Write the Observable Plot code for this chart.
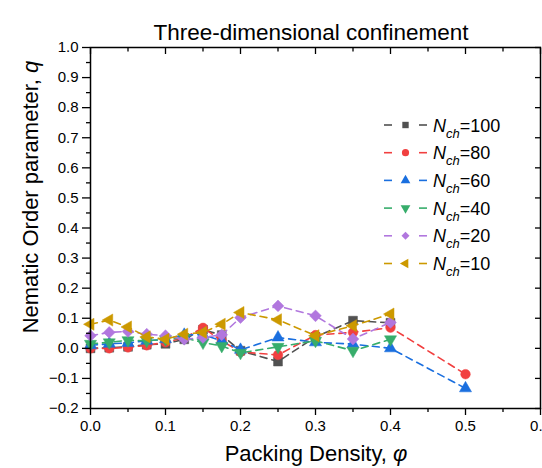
<!DOCTYPE html>
<html><head><meta charset="utf-8">
<script src="https://cdn.jsdelivr.net/npm/d3@7"></script>
<script src="https://cdn.jsdelivr.net/npm/@observablehq/plot@0.6"></script>
<style>
html,body{margin:0;padding:0;background:#fff;}
#chart{width:542px;height:468px;}
</style></head><body><div id="chart"></div>
<script>
// ---- data ----
const phi = [0, 0.025, 0.05, 0.075, 0.1, 0.125, 0.15, 0.175, 0.2, 0.25, 0.3, 0.35, 0.4, 0.5];
const seriesNames = ["100", "80", "60", "40", "20", "10"];
const q100 = [0.0, 0.002, 0.005, 0.012, 0.015, 0.03, 0.062, 0.044, -0.008, -0.044, 0.038, 0.092, 0.085, null];
const q80  = [0.0, 0.0, 0.003, 0.01, 0.02, 0.035, 0.068, 0.025, -0.012, -0.022, 0.044, 0.053, 0.069, -0.086];
const q60  = [0.01, 0.015, 0.018, 0.025, 0.03, 0.045, 0.045, 0.025, -0.005, 0.036, 0.02, 0.014, 0.0, -0.133];
const q40  = [0.015, 0.02, 0.027, 0.025, 0.03, 0.035, 0.019, 0.008, -0.015, 0.005, 0.025, -0.008, 0.03, null];
const q20  = [0.042, 0.053, 0.056, 0.047, 0.042, 0.03, 0.036, 0.045, 0.102, 0.141, 0.108, 0.031, 0.086, null];
const q10  = [0.08, 0.094, 0.071, 0.038, 0.03, 0.047, 0.053, 0.08, 0.119, 0.095, 0.042, 0.075, 0.114, null];
const seriesValues = [q100, q80, q60, q40, q20, q10];
const colors = ["#515151", "#F14040", "#1A6FDF", "#37AD6B", "#B177DE", "#CC9900"];
const xTicks = [0, 0.1, 0.2, 0.3, 0.4, 0.5, 0.6];
const xMinor = [0.05, 0.15, 0.25, 0.35, 0.45, 0.55];
const yTicks = [-0.2, -0.1, 0, 0.1, 0.2, 0.3, 0.4, 0.5, 0.6, 0.7, 0.8, 0.9, 1.0];
const yMinor = [-0.15, -0.05, 0.05, 0.15, 0.25, 0.35, 0.45, 0.55, 0.65, 0.75, 0.85, 0.95];
const titleText = "Three-dimensional confinement";
const xLabel = ["Packing Density, ", "φ"];
const yLabel = ["Nematic Order parameter, ", "q"];

// ---- symbols ----
function triGeom(size){const s=Math.sqrt(4*size/Math.sqrt(3));return {s, h:s*Math.sqrt(3)/2};}
const triDown = {draw(ctx,size){const {s,h}=triGeom(size);ctx.moveTo(0,2*h/3);ctx.lineTo(s/2,-h/3);ctx.lineTo(-s/2,-h/3);ctx.closePath();}};
const triLeft = {draw(ctx,size){const {s,h}=triGeom(size);ctx.moveTo(-2*h/3,0);ctx.lineTo(h/3,-s/2);ctx.lineTo(h/3,s/2);ctx.closePath();}};
const symbols = [d3.symbolSquare, d3.symbolCircle, d3.symbolTriangle, triDown, d3.symbolDiamond2, triLeft];
const radii = [5.0, 4.8, 4.5, 4.5, 5.3, 4.5];

const series = seriesNames.map((n, i) => ({
  name: n, color: colors[i], symbol: symbols[i], r: radii[i],
  data: phi.map((p, j) => ({phi: p, q: seriesValues[i][j]})).filter(d => d.q != null)
}));

const marks = [];
for (const s of series) {
  marks.push(Plot.line(s.data, {x: "phi", y: "q", stroke: s.color, strokeWidth: 1.6, strokeDasharray: "7,5"}));
  marks.push(Plot.dot(s.data, {x: "phi", y: "q", fill: s.color, stroke: s.color, strokeWidth: 0.5, symbol: s.symbol, r: s.r}));
}
const fmt = d3.format(".1f");
const blank = () => "";

const chart = Plot.plot({
  width: 542, height: 468,
  marginLeft: 90, marginRight: 2, marginTop: 47, marginBottom: 60,
  style: {fontFamily: "'Liberation Sans', Arial, sans-serif", fontSize: "15px", color: "#000", background: "#fff"},
  x: {domain: [0, 0.6]},
  y: {domain: [-0.2, 1.0]},
  marks: [
    ...marks,
    Plot.axisX({ticks: xTicks, tickSize: 7, tickPadding: 5, tickFormat: fmt, label: null, strokeWidth: 1.3}),
    Plot.axisX({ticks: xMinor, tickSize: 4, tickFormat: blank, label: null, strokeWidth: 1.3}),
    Plot.axisX({anchor: "top", ticks: xTicks, tickSize: 6, dy: 6, tickFormat: blank, label: null, strokeWidth: 1.3}),
    Plot.axisX({anchor: "top", ticks: xMinor, tickSize: 3.5, dy: 3.5, tickFormat: blank, label: null, strokeWidth: 1.3}),
    Plot.axisY({ticks: yTicks, tickSize: 8, tickPadding: 4, tickFormat: fmt, label: null, strokeWidth: 1.3}),
    Plot.axisY({ticks: yMinor, tickSize: 4, tickFormat: blank, label: null, strokeWidth: 1.3}),
    Plot.axisY({anchor: "right", ticks: yTicks, tickSize: 6, dx: -6, tickFormat: blank, label: null, strokeWidth: 1.3}),
    Plot.frame({stroke: "#000", strokeWidth: 1.5})
  ]
});
document.getElementById("chart").appendChild(chart);

// ---- labels and legend ----
const svg = d3.select(chart);
const FONT = "'Liberation Sans', Arial, sans-serif";
svg.append("text").attr("x", 311).attr("y", 40).attr("text-anchor", "middle")
  .attr("font-size", 22.5).attr("font-family", FONT).attr("fill", "#000").text(titleText);
const xl = svg.append("text").attr("x", 316).attr("y", 461).attr("text-anchor", "middle")
  .attr("font-size", 22).attr("font-family", FONT).attr("fill", "#000");
xl.append("tspan").text(xLabel[0]);
xl.append("tspan").attr("font-style", "italic").text(xLabel[1]);
const yl = svg.append("text").attr("transform", "translate(38,197) rotate(-90)").attr("text-anchor", "middle")
  .attr("font-size", 22).attr("font-family", FONT).attr("fill", "#000");
yl.append("tspan").text(yLabel[0]);
yl.append("tspan").attr("font-style", "italic").text(yLabel[1]);

const lg = svg.append("g").attr("transform", "translate(0,125)");
series.forEach((s, i) => {
  const g = lg.append("g").attr("transform", `translate(0,${i * 27.7})`);
  g.append("line").attr("x1", 384).attr("x2", 392).attr("y1", 0).attr("y2", 0).attr("stroke", s.color).attr("stroke-width", 1.6);
  g.append("line").attr("x1", 419).attr("x2", 427).attr("y1", 0).attr("y2", 0).attr("stroke", s.color).attr("stroke-width", 1.6);
  g.append("path").attr("transform", "translate(405.5,0)").attr("fill", s.color)
    .attr("d", d3.symbol().type(s.symbol).size(Math.PI * 3.6 * 3.6)());
  const t = g.append("text").attr("x", 433).attr("y", 6.5).attr("text-anchor", "start")
    .attr("font-size", 18).attr("font-family", FONT).attr("fill", "#000");
  t.append("tspan").attr("font-style", "italic").text("N");
  t.append("tspan").attr("font-style", "italic").attr("font-size", 13).attr("dy", 6).text("ch");
  t.append("tspan").attr("dy", -6).text("=" + s.name);
});
</script></body></html>
